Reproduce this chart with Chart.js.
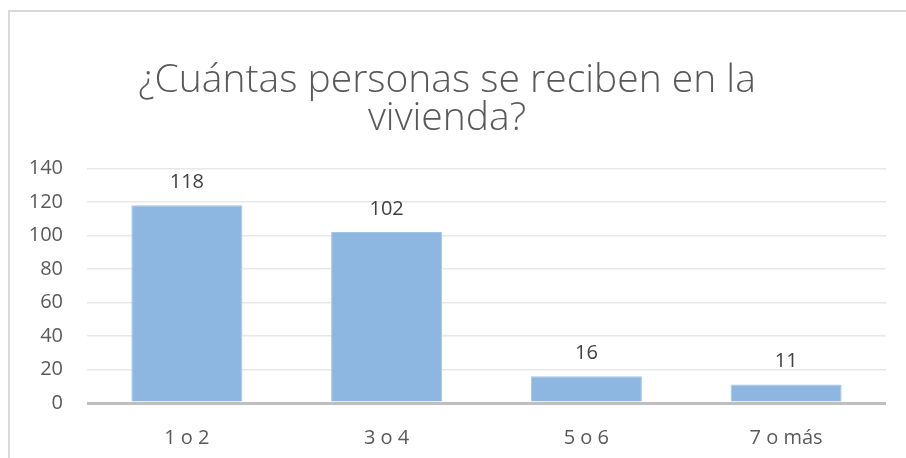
<!DOCTYPE html>
<html>
<head>
<meta charset="utf-8">
<script src="https://cdn.jsdelivr.net/npm/chart.js@4"></script>
<style>
  html, body { margin: 0; padding: 0; background: #fff; }
  #wrap { position: relative; width: 906px; height: 458px; overflow: hidden; }
  #frame { position: absolute; left: 8px; top: 10px; width: 960px; height: 500px;
           border-left: 2px solid #d9d9d9; border-top: 2px solid #d9d9d9; }
  canvas { position: absolute; left: 0; top: 0; }
</style>
</head>
<body>
<div id="wrap">
  <div id="frame"></div>
  <canvas id="barChart" width="906" height="458"></canvas>
</div>
<script>
const titleLines = ['¿Cuántas personas se reciben en la', 'vivienda?'];
const categories = ['1 o 2', '3 o 4', '5 o 6', '7 o más'];
const values = [118, 102, 16, 11];
const yTicks = [0, 20, 40, 60, 80, 100, 120, 140];

// draws the number above each bar
const barLabels = {
  id: 'barLabels',
  afterDatasetsDraw(chart) {
    const ctx = chart.ctx;
    const meta = chart.getDatasetMeta(0);
    ctx.save();
    ctx.font = '20px "Open Sans", sans-serif';
    ctx.fillStyle = '#404040';
    ctx.textAlign = 'center';
    ctx.textBaseline = 'middle';
    meta.data.forEach((bar, i) => {
      ctx.fillText(String(values[i]), bar.x, bar.y - 23);
    });
    ctx.restore();
  },
};

const ctx = document.getElementById('barChart').getContext('2d');
new Chart(ctx, {
  type: 'bar',
  data: {
    labels: categories,
    datasets: [
      {
        data: values,
        backgroundColor: '#8db7e1',
        borderColor: '#a3c5e8',
        borderWidth: 1,
        categoryPercentage: 0.556,
        barPercentage: 1.0,
      },
    ],
  },
  options: {
    responsive: false,
    animation: false,
    layout: { padding: { left: 8, right: 20, top: 62, bottom: 0 } },
    plugins: {
      legend: { display: false },
      tooltip: { enabled: false },
      title: {
        display: true,
        text: titleLines,
        color: '#595959',
        font: { family: '"Open Sans", sans-serif', size: 39, weight: '300', lineHeight: 0.98 },
        padding: { top: 0, bottom: 30 },
      },
    },
    scales: {
      x: {
        grid: { display: false },
        border: { display: false },
        ticks: {
          color: '#595959',
          font: { family: '"Open Sans", sans-serif', size: 20 },
          padding: 15,
        },
        afterFit: (s) => { s.height = 55; },
      },
      y: {
        min: 0,
        max: 140,
        afterBuildTicks: (s) => { s.ticks = yTicks.map((v) => ({ value: v })); },
        border: { display: false },
        grid: {
          drawTicks: false,
          color: (c) => (c.tick.value === 0 ? '#bfbfbf' : '#e8e8e8'),
          lineWidth: (c) => (c.tick.value === 0 ? 3 : 1.5),
        },
        ticks: {
          color: '#595959',
          font: { family: '"Open Sans", sans-serif', size: 20 },
          padding: 24,
        },
        afterFit: (s) => { s.width = 79; },
      },
    },
  },
  plugins: [barLabels],
});
</script>
</body>
</html>
